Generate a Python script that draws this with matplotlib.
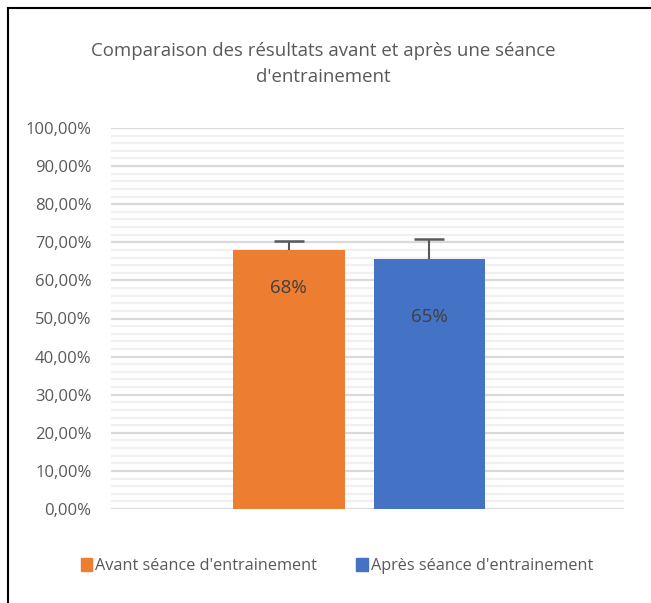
import matplotlib
matplotlib.use("Agg")
import matplotlib.pyplot as plt
from matplotlib.lines import Line2D
from matplotlib.patches import Patch
import numpy as np

# data
series = ["Avant séance d'entrainement", "Après séance d'entrainement"]
values = [68.0, 65.6]
err_up = [2.4, 5.2]
labels = ["68%", "65%"]
label_pos = [58.0, 50.4]
colors = ["#ED7D31", "#4472C4"]
title = "Comparaison des résultats avant et après une séance\nd'entrainement"

W, H = 651, 603
plt.rcParams["font.family"] = ["Open Sans", "DejaVu Sans"]
fig = plt.figure(figsize=(W / 100, H / 100), dpi=100)

# plot area in pixels: x 111..624, y 128..509
ax = fig.add_axes([111 / W, 1 - 509 / H, (624 - 111) / W, (509 - 128) / H])

bar_w = 111.5 / 513
gap = 29 / 513
mid = (359 - 111) / 513
x = np.array([mid - gap / 2 - bar_w / 2, mid + gap / 2 + bar_w / 2])
ax.bar(x, values, width=bar_w, color=colors, zorder=3)
eb = ax.errorbar(x, values, yerr=[[0, 0], err_up], fmt="none", ecolor="#595959",
                 elinewidth=1.5, capsize=11, capthick=1.8, zorder=4)
eb[1][0].set_visible(False)  # hide lower caps
for xi, lab, yp in zip(x, labels, label_pos):
    ax.text(xi, yp, lab, ha="center", va="center", fontsize=13.5, color="#404040", zorder=5)

ax.set_xlim(0, 1)
ax.set_ylim(0, 100)
for v in np.arange(0, 101, 2):
    major = v % 10 == 0
    ax.axhline(v, color="#D9D9D9" if major else "#F0F0F0", lw=1.6, zorder=1)
ax.set_yticks(np.arange(0, 101, 10))
ax.set_yticklabels([f"{v:.2f}%".replace(".", ",") for v in np.arange(0, 101, 10)],
                   fontsize=12, color="#595959")
ax.tick_params(axis="y", length=0, pad=14)
ax.set_xticks([])
for s in ax.spines.values():
    s.set_visible(False)

fig.text(323 / W, 1 - 64 / H, title, ha="center", va="center",
         fontsize=13.4, color="#595959", linespacing=1.5)

handles = [Patch(color=c) for c in colors]
fig.legend(handles, series, loc="center", bbox_to_anchor=(337 / W, 1 - 566 / H),
           ncol=2, frameon=False, fontsize=11.7, handlelength=0.7, handleheight=0.9,
           handletextpad=0.2, columnspacing=2.4, labelcolor="#595959")

# chart frame (top and left edges)
fig.add_artist(Line2D([8 / W, 8 / W], [0, 1 - 8 / H], color="black", lw=1.5))
fig.add_artist(Line2D([8 / W, 1], [1 - 8 / H, 1 - 8 / H], color="black", lw=1.5))

fig.savefig("out.png", dpi=100)
